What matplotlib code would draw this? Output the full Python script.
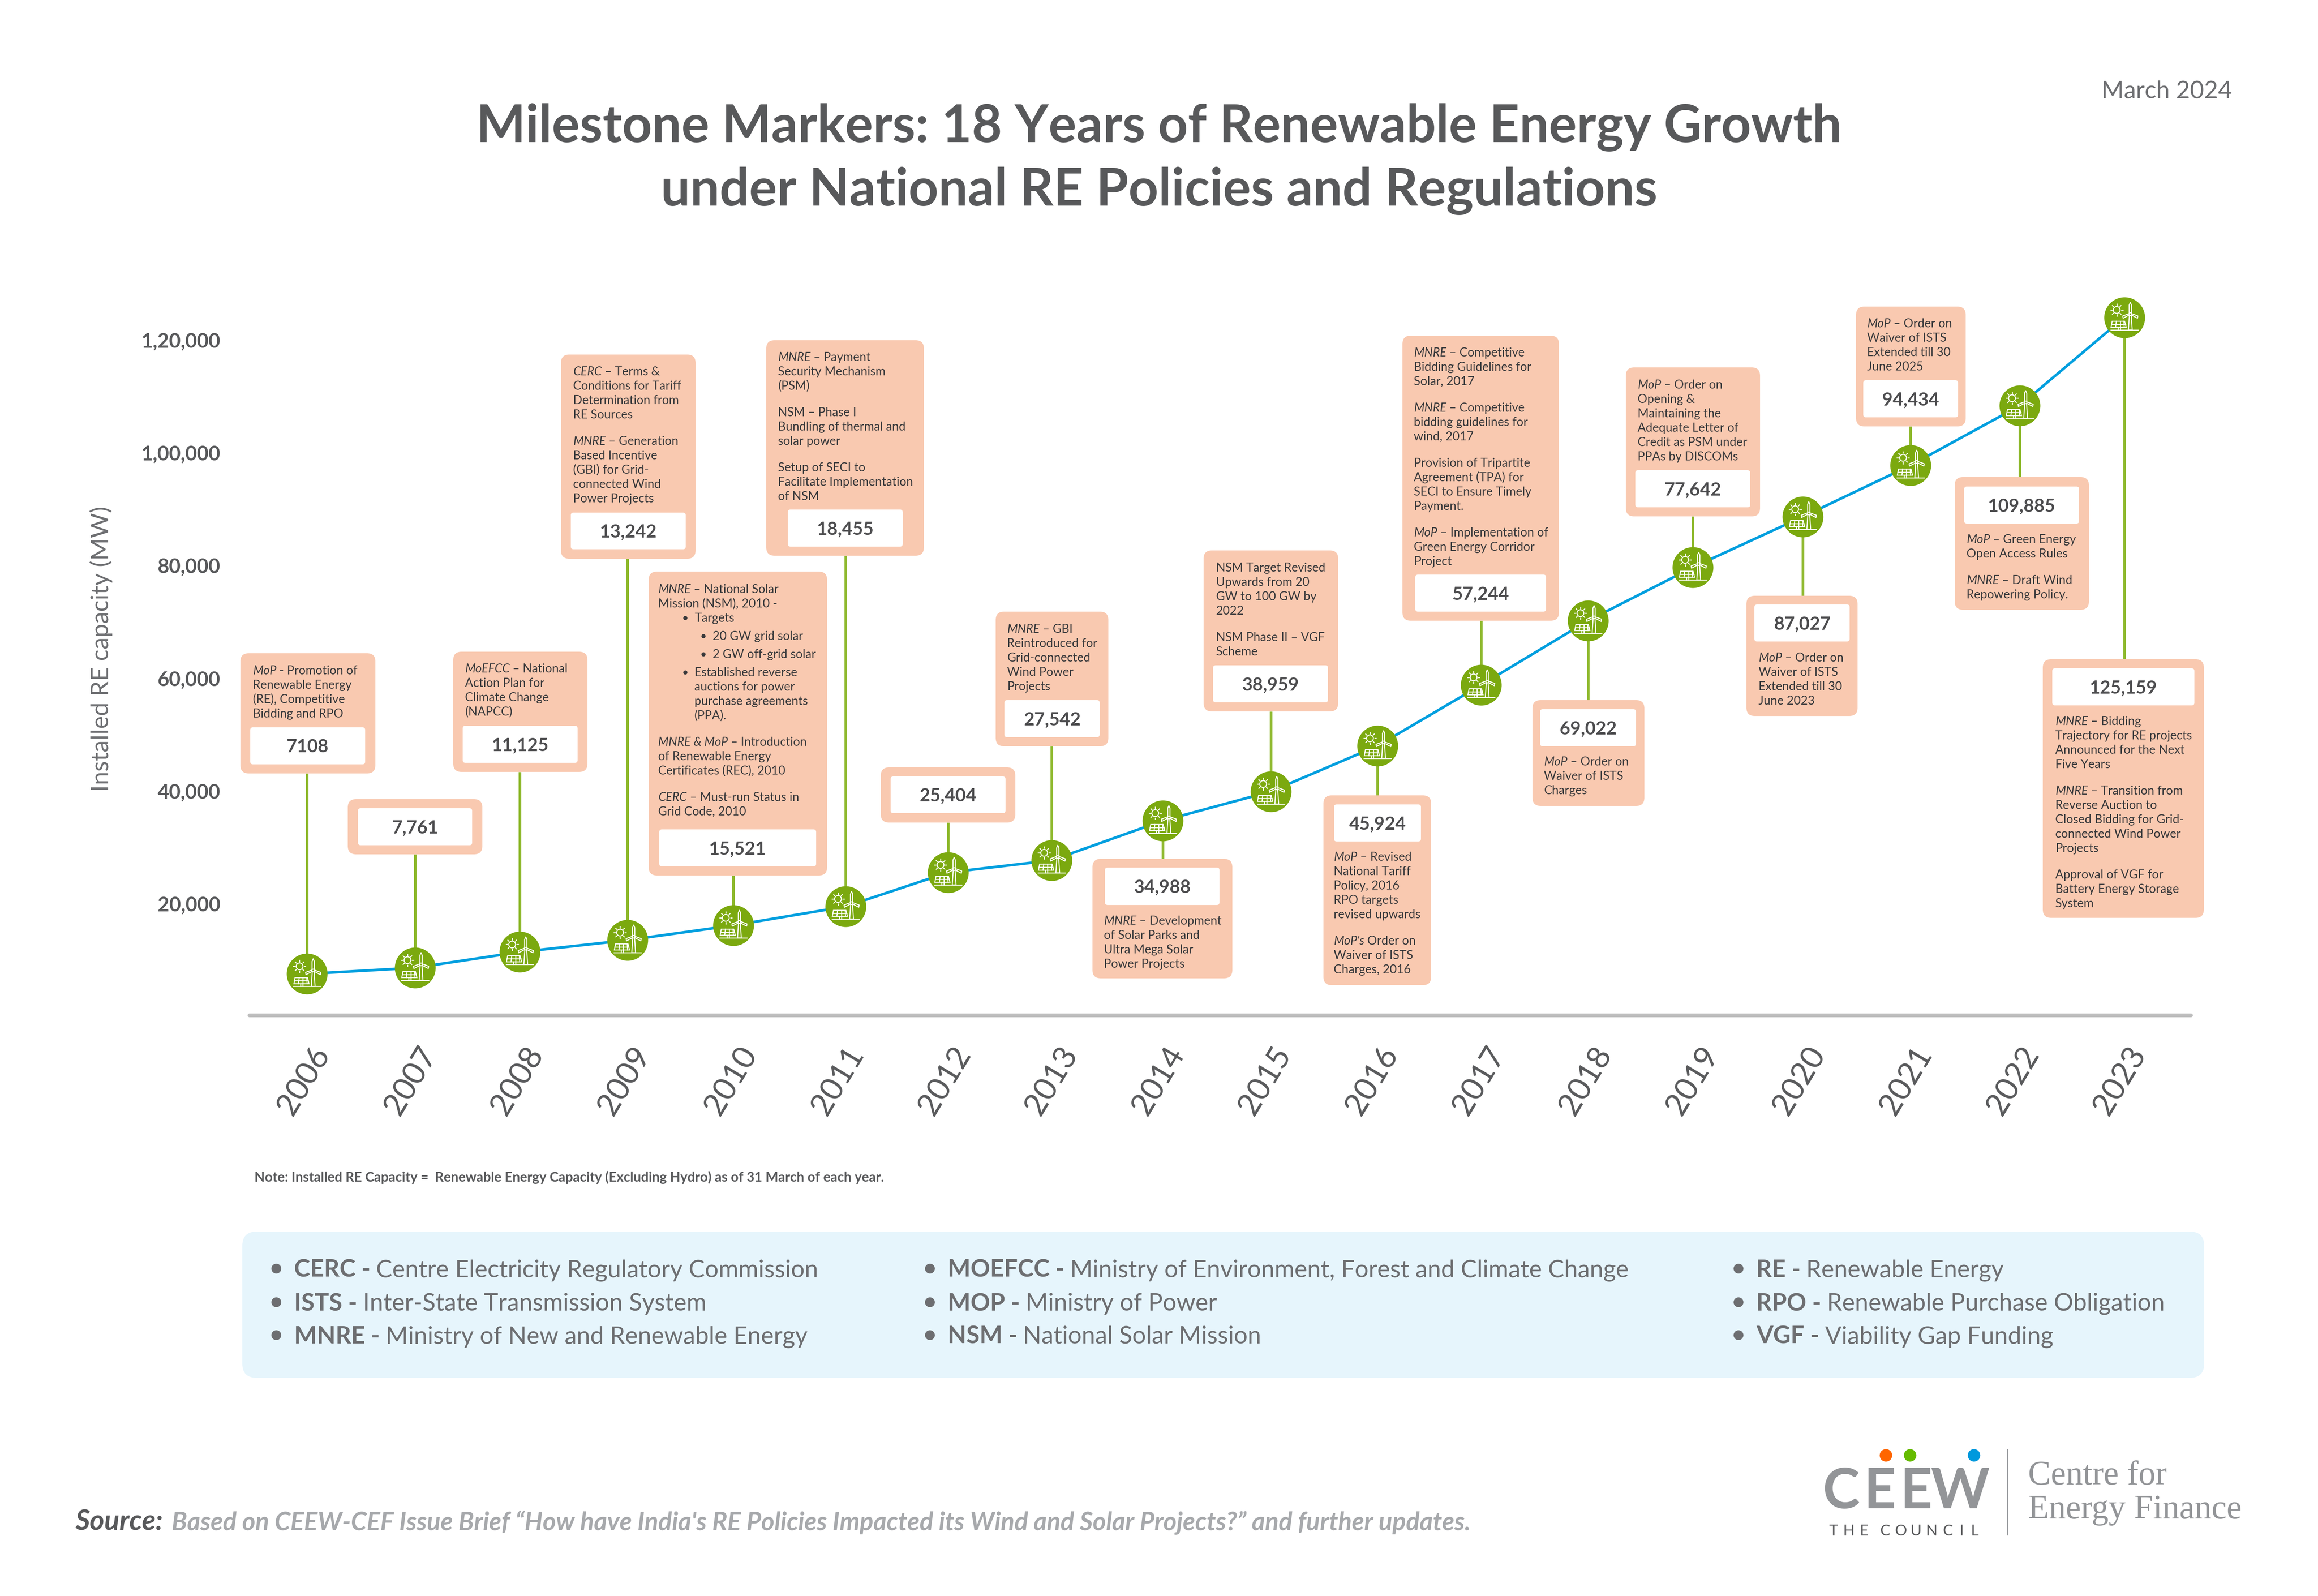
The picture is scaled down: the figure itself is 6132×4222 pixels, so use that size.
import matplotlib
matplotlib.use("Agg")
import matplotlib.pyplot as plt
from matplotlib.patches import FancyBboxPatch, Circle, Rectangle
import numpy as np

W, H, DPI = 6132, 4222, 300
PT = 72 / DPI  # pt per pixel

plt.rcParams['font.family'] = ['Lato', 'DejaVu Sans']

years = list(range(2006, 2024))
# x, the markers sit a little right of the year labels
year_x = [2006.03, 2007.04, 2008.02, 2009.03, 2010.02, 2011.07, 2012.03, 2013.00, 2014.04,
          2015.05, 2016.05, 2017.02, 2018.02, 2019.00, 2020.03, 2021.04, 2022.06, 2023.04]
# height of the markers as drawn (does not follow the printed labels exactly)
capacity_mw = [7500, 8590, 11380, 13490, 16110, 19460, 25500, 27650, 34690,
               39860, 47970, 58780, 70180, 79640, 88630, 97760, 108330, 124000]
value_labels = ['7108', '7,761', '11,125', '13,242', '15,521', '18,455', '25,404', '27,542', '34,988',
                '38,959', '45,924', '57,244', '69,022', '77,642', '87,027', '94,434', '109,885', '125,159']
y_ticks = [20000, 40000, 60000, 80000, 100000, 120000]
y_tick_labels = ['20,000', '40,000', '60,000', '80,000', '1,00,000', '1,20,000']

# *x* is italic, '' is a paragraph gap, >1 and >2 are bullet levels, >3 continues a bullet
notes = [
    ['*MoP* - Promotion of', 'Renewable Energy', '(RE), Competitive', 'Bidding and RPO'],
    [],
    ['*MoEFCC* – National', 'Action Plan for', 'Climate Change', '(NAPCC)'],
    ['*CERC* – Terms &', 'Conditions for Tariff', 'Determination from', 'RE Sources', '',
     '*MNRE* – Generation', 'Based Incentive', '(GBI) for Grid-', 'connected Wind', 'Power Projects'],
    ['*MNRE* – National Solar', 'Mission (NSM), 2010 -', '>1Targets', '>220 GW grid solar', '>22 GW off-grid solar',
     '>1Established reverse', '>3auctions for power', '>3purchase agreements', '>3(PPA).', '',
     '*MNRE & MoP* – Introduction', 'of Renewable Energy', 'Certificates (REC), 2010', '',
     '*CERC* – Must-run Status in', 'Grid Code, 2010'],
    ['*MNRE* – Payment', 'Security Mechanism', '(PSM)', '',
     'NSM – Phase I', 'Bundling of thermal and', 'solar power', '',
     'Setup of SECI to', 'Facilitate Implementation', 'of NSM'],
    [],
    ['*MNRE* – GBI', 'Reintroduced for', 'Grid-connected', 'Wind Power', 'Projects'],
    ['*MNRE* – Development', 'of Solar Parks and', 'Ultra Mega Solar', 'Power Projects'],
    ['NSM Target Revised', 'Upwards from 20', 'GW to 100 GW by', '2022', '', 'NSM Phase II – VGF', 'Scheme'],
    ['*MoP* – Revised', 'National Tariff', 'Policy, 2016', 'RPO targets', 'revised upwards', '',
     "*MoP's* Order on", 'Waiver of ISTS', 'Charges, 2016'],
    ['*MNRE* – Competitive', 'Bidding Guidelines for', 'Solar, 2017', '',
     '*MNRE* – Competitive', 'bidding guidelines for', 'wind, 2017', '',
     'Provision of Tripartite', 'Agreement (TPA) for', 'SECI to Ensure Timely', 'Payment.', '',
     '*MoP* – Implementation of', 'Green Energy Corridor', 'Project'],
    ['*MoP* – Order on', 'Waiver of ISTS', 'Charges'],
    ['*MoP* – Order on', 'Opening &', 'Maintaining the', 'Adequate Letter of', 'Credit as PSM under', 'PPAs by DISCOMs'],
    ['*MoP* – Order on', 'Waiver of ISTS', 'Extended till 30', 'June 2023'],
    ['*MoP* – Order on', 'Waiver of ISTS', 'Extended till 30', 'June 2025'],
    ['*MoP* – Green Energy', 'Open Access Rules', '', '*MNRE* – Draft Wind', 'Repowering Policy.'],
    ['*MNRE* – Bidding', 'Trajectory for RE projects', 'Announced for the Next', 'Five Years', '',
     '*MNRE* – Transition from', 'Reverse Auction to', 'Closed Bidding for Grid-', 'connected Wind Power', 'Projects', '',
     'Approval of VGF for', 'Battery Energy Storage', 'System'],
]

legend_cols = [
    [('CERC -', 'Centre Electricity Regulatory Commission'),
     ('ISTS -', 'Inter-State Transmission System'),
     ('MNRE -', 'Ministry of New and Renewable Energy')],
    [('MOEFCC -', 'Ministry of Environment, Forest and Climate Change'),
     ('MOP -', 'Ministry of Power'),
     ('NSM -', 'National Solar Mission')],
    [('RE -', 'Renewable Energy'),
     ('RPO -', 'Renewable Purchase Obligation'),
     ('VGF -', 'Viability Gap Funding')],
]

# pixel layout of the callouts: outer box, white box, text start x, first line y
box_layout = [
    ((636, 1728, 993, 2046), (662, 1924, 966, 2022), 669, 1773),
    ((920, 2114, 1276, 2260), (947, 2138, 1249, 2236), 0, 0),
    ((1199, 1724, 1554, 2042), (1224, 1920, 1528, 2018), 1230, 1768),
    ((1484, 938, 1840, 1478), (1510, 1356, 1814, 1453), 1516, 982),
    ((1716, 1512, 2188, 2316), (1744, 2194, 2159, 2292), 1741, 1558),
    ((2027, 900, 2444, 1470), (2084, 1348, 2388, 1446), 2058, 944),
    ((2330, 2030, 2686, 2176), (2356, 2054, 2660, 2151), 0, 0),
    ((2634, 1618, 2932, 1974), (2657, 1852, 2909, 1950), 2664, 1663),
    ((2890, 2272, 3260, 2588), (2923, 2295, 3226, 2394), 2920, 2435),
    ((3184, 1456, 3540, 1882), (3209, 1760, 3513, 1858), 3217, 1501),
    ((3501, 2104, 3786, 2606), (3529, 2128, 3759, 2226), 3528, 2266),
    ((3710, 888, 4124, 1642), (3744, 1520, 4090, 1618), 3740, 932),
    ((4054, 1852, 4350, 2132), (4074, 1876, 4328, 1974), 4084, 2014),
    ((4301, 972, 4656, 1366), (4326, 1244, 4630, 1342), 4332, 1017),
    ((4620, 1576, 4914, 1894), (4641, 1599, 4893, 1697), 4652, 1739),
    ((4910, 811, 5200, 1128), (4929, 1006, 5180, 1104), 4939, 855),
    ((5171, 1262, 5526, 1613), (5196, 1287, 5500, 1385), 5202, 1426),
    ((5404, 1744, 5830, 2428), (5429, 1768, 5805, 1866), 5437, 1907),
]

TITLE_GREY = '#58595B'
TEXT_GREY = '#6D6E71'
BOX_COLOR = '#F9C9B0'
NOTE_COLOR = '#3A3A3C'
GREEN = '#7BA90F'
STEM = '#8DB82B'
BLUE = '#009FDF'
NOTE_PX = 32
VALUE_PX = 48

fig = plt.figure(figsize=(W / DPI, H / DPI), dpi=DPI, facecolor='white')

# chart axes, calibrated to the pixel positions in the picture
AX_L, AX_R, AX_T, AX_B = 660, 5796, 780, 2686
PX_PER_YEAR = 282.6
YEAR0_PX = 804
PX_PER_MW = 0.014905
Y0_PX = 2688.1
ax = fig.add_axes([AX_L / W, 1 - AX_B / H, (AX_R - AX_L) / W, (AX_B - AX_T) / H])
ax.set_xlim(2006 + (AX_L - YEAR0_PX) / PX_PER_YEAR, 2006 + (AX_R - YEAR0_PX) / PX_PER_YEAR)
ax.set_ylim((Y0_PX - AX_B) / PX_PER_MW, (Y0_PX - AX_T) / PX_PER_MW)
ax.patch.set_alpha(0)
for s in ['top', 'left', 'right']:
    ax.spines[s].set_visible(False)
ax.spines['bottom'].set_color('#BDBDBD')
ax.spines['bottom'].set_linewidth(10 * PT)
ax.spines['bottom'].set_capstyle('round')
ax.set_xticks(years)
ax.set_xticklabels(years, rotation=59, fontsize=84 * PT, color=TITLE_GREY, ha='center', va='top')
ax.set_yticks(y_ticks)
ax.set_yticklabels(y_tick_labels, fontsize=53 * PT, color=TITLE_GREY, fontweight='bold')
ax.tick_params(axis='both', length=0)
ax.tick_params(axis='x', pad=70 * PT)
ax.tick_params(axis='y', pad=77 * PT)
ax.set_ylabel('Installed RE capacity (MW)', fontsize=64 * PT, color=TEXT_GREY)
ax.yaxis.set_label_coords((298 - AX_L) / (AX_R - AX_L), (AX_B - 1717) / (AX_B - AX_T))

# stems run from the marker to the edge of its callout
for x, mw, layout in zip(year_x, capacity_mw, box_layout):
    marker_px = Y0_PX - mw * PX_PER_MW
    top, bottom = layout[0][1], layout[0][3]
    edge_px = bottom if bottom < marker_px else top
    ax.vlines(x, mw, (Y0_PX - edge_px) / PX_PER_MW, color=STEM, lw=7 * PT, zorder=2)
ax.plot(year_x, capacity_mw, color=BLUE, lw=7 * PT, zorder=3, solid_capstyle='butt')
ax.scatter(year_x, capacity_mw, s=(108 * PT) ** 2, color=GREEN, linewidths=0, zorder=4, clip_on=False)

# overlay in picture pixels for callouts, legend and logo
ov = fig.add_axes([0, 0, 1, 1], zorder=5)
ov.set_xlim(0, W)
ov.set_ylim(H, 0)
ov.axis('off')
ov.patch.set_alpha(0)


def round_box(x0, y0, x1, y1, r, color):
    ov.add_patch(FancyBboxPatch((x0 + r, y0 + r), x1 - x0 - 2 * r, y1 - y0 - 2 * r,
                                boxstyle=f'round,pad={r},rounding_size={r}',
                                fc=color, ec='none'))


def rich_line(x, y, line, size_px, color):
    # split on * and set the parts one after the other
    renderer = fig.canvas.get_renderer()
    parts = line.split('*')
    cur = x
    for i, part in enumerate(parts):
        if not part:
            continue
        if part.startswith(' '):
            cur += 0.24 * size_px
        t = ov.text(cur, y, part.strip(), fontsize=size_px * PT, color=color, va='baseline',
                    style='italic' if i % 2 else 'normal')
        cur += t.get_window_extent(renderer).width
        if part.endswith(' '):
            cur += 0.24 * size_px


def draw_icon(cx, cy):
    c = 'white'
    lw = 2.6 * PT
    # sun
    sx, sy = cx - 20, cy - 20
    ov.add_patch(Circle((sx, sy), 9, fc='none', ec=c, lw=lw))
    for a in np.arange(0, 360, 45):
        d = np.deg2rad(a)
        ov.plot([sx + 12.5 * np.cos(d), sx + 16 * np.cos(d)], [sy + 12.5 * np.sin(d), sy + 16 * np.sin(d)], color=c, lw=lw)
    # ground
    ov.plot([cx - 36, cx + 36], [cy + 33, cy + 33], color=c, lw=lw)
    # panel
    ov.add_patch(plt.Polygon([(cx - 32, cy + 10), (cx + 1, cy + 10), (cx + 5, cy + 26), (cx - 35, cy + 26)], fc='none', ec=c, lw=lw))
    ov.plot([cx - 34, cx + 3], [cy + 18, cy + 18], color=c, lw=lw)
    for dx0, dx1 in [(-21, -23), (-11, -11), (-1, 0)]:
        ov.plot([cx + dx0, cx + dx1], [cy + 10, cy + 26], color=c, lw=lw)
    ov.plot([cx - 17, cx - 17], [cy + 26, cy + 33], color=c, lw=lw)
    ov.plot([cx - 11, cx - 11], [cy + 26, cy + 33], color=c, lw=lw)
    # turbine
    hx, hy = cx + 16, cy - 9
    ov.plot([hx - 2.5, hx - 5, hx + 5, hx + 2.5], [hy + 3, cy + 33, cy + 33, hy + 3], color=c, lw=lw)
    ov.add_patch(Circle((hx, hy), 3.5, fc='none', ec=c, lw=lw))
    ov.plot([hx - 3, hx - 3, hx, hx + 3, hx + 3], [hy - 3, hy - 24, hy - 31, hy - 24, hy - 3], color=c, lw=lw)
    ov.plot([hx - 4, hx - 20, hx - 19, hx - 4], [hy - 1, hy + 5, hy + 11, hy + 3], color=c, lw=lw)
    ov.plot([hx + 4, hx + 20, hx + 19, hx + 4], [hy - 1, hy + 5, hy + 11, hy + 3], color=c, lw=lw)


# callouts
INDENT = {0: 0, 1: 96, 2: 144, 3: 96}
for i in range(len(years)):
    outer, inner, tx, ty = box_layout[i]
    round_box(*outer, 22, BOX_COLOR)
    round_box(*inner, 7, 'white')
    ov.text((inner[0] + inner[2]) / 2, (inner[1] + inner[3]) / 2 + 17, value_labels[i], fontsize=VALUE_PX * PT,
            fontweight='bold', color='#4D4D4F', ha='center', va='baseline')
    y = ty
    prev = None
    for line in notes[i]:
        if line == '':
            y += 32
            continue
        level = 0
        if line.startswith('>'):
            level = int(line[1])
            line = line[2:]
        if prev is not None:
            y += 48 if level == 2 or prev == 2 else 38
        if level in (1, 2):
            ov.add_patch(Circle((tx + INDENT[level] - 24, y + 1), 5.5, fc=NOTE_COLOR, ec='none'))
        rich_line(tx + INDENT[level], y + 11, line, NOTE_PX, NOTE_COLOR)
        prev = level

# icons on top of the markers
for x, mw in zip(year_x, capacity_mw):
    cx = YEAR0_PX + (x - 2006) * PX_PER_YEAR
    draw_icon(cx, Y0_PX - mw * PX_PER_MW)

# titles
ov.text(3066, 376, 'Milestone Markers: 18 Years of Renewable Energy Growth', fontsize=138 * PT,
        fontweight='bold', color=TITLE_GREY, ha='center', va='baseline')
ov.text(3066, 544, 'under National RE Policies and Regulations', fontsize=138 * PT,
        fontweight='bold', color=TITLE_GREY, ha='center', va='baseline')
ov.text(5905, 260, 'March 2024', fontsize=64 * PT, color=TEXT_GREY, ha='right', va='baseline')
ov.text(673, 3126, 'Note: Installed RE Capacity =  Renewable Energy Capacity (Excluding Hydro) as of 31 March of each year.',
        fontsize=35.7 * PT, color=TITLE_GREY, fontweight='bold', va='baseline')

# abbreviations panel
round_box(641, 3258, 5831, 3645, 38, '#E6F5FC')
col_x = [731, 2460, 4599]
row_y = [3356, 3445, 3532]
renderer = fig.canvas.get_renderer()
for cx, col in zip(col_x, legend_cols):
    for ry, (abbr, full) in zip(row_y, col):
        ov.add_patch(Circle((cx, ry), 13, fc=TEXT_GREY, ec='none'))
        t = ov.text(cx + 47, ry + 22, abbr, fontsize=64 * PT, fontweight='bold', color=TEXT_GREY, va='baseline')
        w = t.get_window_extent(renderer).width
        ov.text(cx + 47 + w + 15, ry + 22, full, fontsize=64 * PT, color=TEXT_GREY, va='baseline')

# source line
ov.text(199, 4048, 'Source:', fontsize=74 * PT, style='italic', fontweight='bold', color=TITLE_GREY, va='baseline')
ov.text(454, 4048, 'Based on CEEW-CEF Issue Brief “How have India\'s RE Policies Impacted its Wind and Solar Projects?” and further updates.',
        fontsize=67 * PT, style='italic', fontweight='bold', color='#A7A9AC', va='baseline')

# logo
LOGO = '#939598'
for lx, lc in zip([4989, 5053, 5222], ['#FF6600', '#66BB00', '#0099DD']):
    ov.add_patch(Circle((lx, 3850), 16.5, fc=lc, ec='none'))
for lx, ch in zip([4870, 4973, 5069, 5185], 'CEEW'):
    ov.text(lx, 3990, ch, fontsize=148 * PT, fontweight='bold', color=LOGO, ha='center', va='baseline')
for lx, ch in zip([168, 213, 259, 321, 367, 413, 459, 507, 548, 586], 'THECOUNCIL'):
    ov.text(4700 + lx / 1.12, 4062, ch, fontsize=40 * PT, color=TITLE_GREY, ha='center', va='baseline')
ov.add_patch(Rectangle((5310, 3833), 3, 229, fc=LOGO, ec='none'))
ov.text(5365, 3927, 'Centre for', fontsize=90 * PT, family='Liberation Serif', color=LOGO, va='baseline')
ov.text(5365, 4017, 'Energy Finance', fontsize=90 * PT, family='Liberation Serif', color=LOGO, va='baseline')

fig.savefig('out.png', dpi=DPI, facecolor='white')
